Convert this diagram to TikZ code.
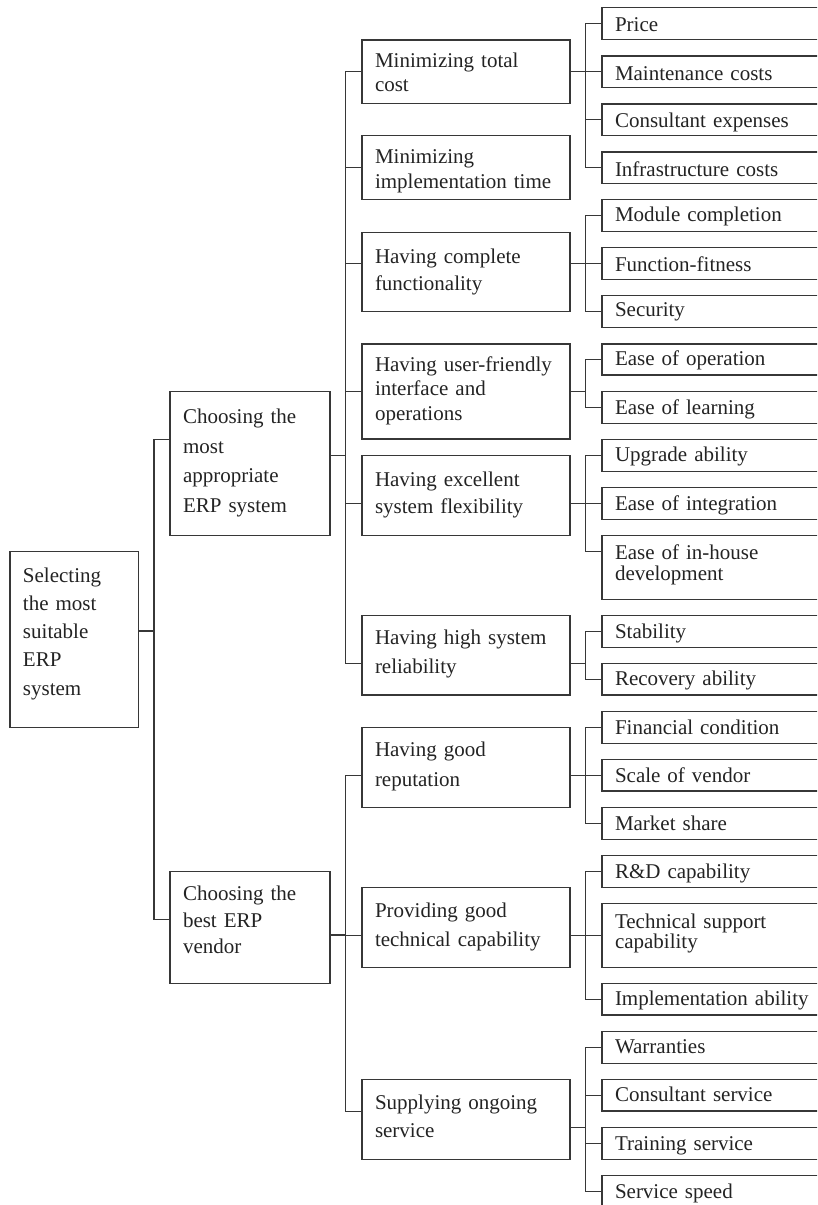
\documentclass[tikz,border=0pt]{standalone}
\usepackage{fontspec}
\setmainfont{Liberation Serif}
\definecolor{ink}{RGB}{35,35,35}
\definecolor{edge}{RGB}{55,55,55}
% name, left, top, right, bottom, first baseline, leading, text
\newcommand\erpbox[8]{%
  \pgfmathsetmacro\erpw{#4-#2-26}%
  \pgfmathsetmacro\erph{#6-#3}%
  \pgfmathsetmacro\erpd{#5-#6}%
  \node[cbox, font=\fontsize{21}{#7}\selectfont, text width=\erpw pt,
        text height=\erph pt, text depth=\erpd pt] (#1) at (#2,#3) {#8};}
\begin{document}
\begin{tikzpicture}[x=1pt,y=-1pt,
  cbox/.style={draw=edge, line width=1.1pt, anchor=north west, align=left,
    inner xsep=13pt, inner ysep=0pt, outer sep=0pt, text=ink},
  conn/.style={draw=edge, line width=1.1pt}]
\clip (0,0) rectangle (817,1205);
% level 0 / 1
\erpbox{root}{10}{551.7}{138.3}{727.3}{582.3}{28.2}{Selecting\\the most\\suitable\\ERP\\system}
\erpbox{sys}{170}{391.7}{330}{535.3}{423.3}{29.7}{Choosing the\\most\\appropriate\\ERP system}
\erpbox{ven}{170}{871.7}{330}{983.3}{900.7}{26.5}{Choosing the\\best ERP\\vendor}
% level 2
\erpbox{cost}{362}{40}{570}{103.3}{67.7}{24}{Minimizing total\\cost}
\erpbox{time}{362}{135.7}{570}{199.3}{163.3}{25}{Minimizing\\implementation time}
\erpbox{func}{362}{232.3}{570}{311.7}{263.3}{26.7}{Having complete\\functionality}
\erpbox{user}{362}{344}{570}{439}{371.7}{24.2}{Having user-friendly\\interface and\\operations}
\erpbox{flex}{362}{455.7}{570}{535.3}{486}{27.3}{Having excellent\\system flexibility}
\erpbox{reli}{362}{615.7}{570}{695}{644.3}{29}{Having high system\\reliability}
\erpbox{repu}{362}{727.7}{570}{807.3}{756.7}{29.3}{Having good\\reputation}
\erpbox{tech}{362}{887.7}{570}{967.3}{917.3}{28.7}{Providing good\\technical capability}
\erpbox{serv}{362}{1079.3}{570}{1159.3}{1109.3}{28}{Supplying ongoing\\service}
% leaves
\erpbox{price}{602}{7.3}{822}{39.3}{31.7}{24}{Price}
\erpbox{maint}{602}{56}{822}{87.3}{80}{24}{Maintenance costs}
\erpbox{consu}{602}{104}{822}{135.3}{127.7}{24}{Consultant expenses}
\erpbox{infra}{602}{152}{822}{183.3}{176}{24}{Infrastructure costs}
\erpbox{modul}{602}{199.3}{822}{231.3}{221}{24}{Module completion}
\erpbox{fitne}{602}{247.7}{822}{279.3}{271.7}{24}{Function-fitness}
\erpbox{secur}{602}{295.3}{822}{327.3}{316.7}{24}{Security}
\erpbox{oper}{602}{344}{822}{375}{365}{24}{Ease of operation}
\erpbox{learn}{602}{391.7}{822}{423.3}{414}{24}{Ease of learning}
\erpbox{upgr}{602}{439.3}{822}{471.3}{461.7}{24}{Upgrade ability}
\erpbox{integ}{602}{487.7}{822}{519.3}{510}{24}{Ease of integration}
\erpbox{inhou}{602}{535.7}{822}{599.3}{559.3}{21.3}{Ease of in-house\\development}
\erpbox{stab}{602}{615.7}{822}{647.3}{638.3}{24}{Stability}
\erpbox{recov}{602}{663.3}{822}{695}{685}{24}{Recovery ability}
\erpbox{finan}{602}{711.7}{822}{743.3}{734}{24}{Financial condition}
\erpbox{scale}{602}{759.3}{822}{791}{782}{24}{Scale of vendor}
\erpbox{marke}{602}{807.3}{822}{839.3}{830}{24}{Market share}
\erpbox{rnd}{602}{855.7}{822}{887.3}{878.3}{24}{R\&D capability}
\erpbox{tsupp}{602}{903.3}{822}{967.3}{928.3}{20}{Technical support\\capability}
\erpbox{impl}{602}{983.3}{822}{1015}{1005}{24}{Implementation ability}
\erpbox{warr}{602}{1031.7}{822}{1063.3}{1053.3}{24}{Warranties}
\erpbox{csrv}{602}{1079.3}{822}{1111}{1101}{24}{Consultant service}
\erpbox{train}{602}{1127.7}{822}{1159.3}{1150}{24}{Training service}
\erpbox{speed}{602}{1175.3}{822}{1212}{1198.3}{24}{Service speed}
% root -> level 1
\draw[conn] ([yshift=-79.3pt]root.north east) -- ++(15.7,0);
\draw[conn] ([yshift=-47.6pt]sys.north west) -- ++(-16,0) |- ([yshift=-47.6pt]ven.north west);
% level 1 -> level 2 (system)
\draw[conn] ([yshift=-64pt]sys.north east) -- ++(15.7,0);
\draw[conn] (cost.west) -- ++(-16.3,0) |- ([yshift=-47.6pt]reli.north west);
\draw[conn] (time.west) -- ++(-16.3,0);
\draw[conn] ([yshift=-31pt]func.north west) -- ++(-16.3,0);
\draw[conn] (user.west) -- ++(-16.3,0);
\draw[conn] (flex.west |- integ.west) -- ++(-16.3,0);
% level 1 -> level 2 (vendor)
\draw[conn] ([yshift=-63.3pt]ven.north east) -- ++(15.7,0);
\draw[conn] (repu.west |- scale.west) -- ++(-16.3,0) |- ([yshift=-32pt]serv.north west);
\draw[conn] (tech.west |- tsupp.west) -- ++(-16.3,0);
% level 2 -> leaves
\draw[conn] (cost.east) -- ++(15.7,0);
\draw[conn] (price.west) -- ++(-16.3,0) |- (infra.west);
\draw[conn] (maint.west) -- ++(-16.3,0);
\draw[conn] (consu.west) -- ++(-16.3,0);
\draw[conn] (func.east |- fitne.west) -- (fitne.west);
\draw[conn] (modul.west) -- ++(-16.3,0) |- (secur.west);
\draw[conn] (user.east) -- ++(15.7,0);
\draw[conn] (oper.west) -- ++(-16.3,0) |- (learn.west);
\draw[conn] (flex.east |- integ.west) -- (integ.west);
\draw[conn] (upgr.west) -- ++(-16.3,0) |- ([yshift=-16pt]inhou.north west);
\draw[conn] ([yshift=-47.6pt]reli.north east) -- ++(15.7,0);
\draw[conn] (stab.west) -- ++(-16.3,0) |- (recov.west);
\draw[conn] (repu.east |- scale.west) -- (scale.west);
\draw[conn] (finan.west) -- ++(-16.3,0) |- (marke.west);
\draw[conn] (tech.east |- tsupp.west) -- (tsupp.west);
\draw[conn] (rnd.west) -- ++(-16.3,0) |- (impl.west);
\draw[conn] ([yshift=-48pt]serv.north east) -- ++(15.7,0);
\draw[conn] (warr.west) -- ++(-16.3,0) |- ([yshift=-16pt]speed.north west);
\draw[conn] (csrv.west) -- ++(-16.3,0);
\draw[conn] (train.west) -- ++(-16.3,0);
\end{tikzpicture}
\end{document}
